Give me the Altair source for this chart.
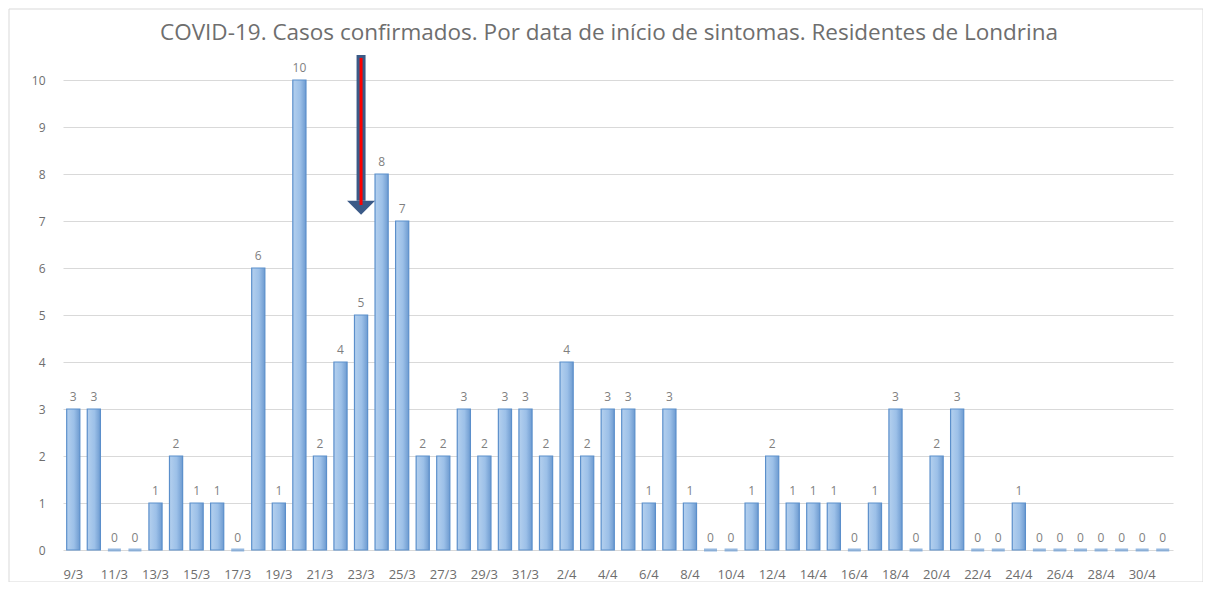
import altair as alt
import pandas as pd

dates = ["9/3", "10/3", "11/3", "12/3", "13/3", "14/3", "15/3", "16/3", "17/3", "18/3",
         "19/3", "20/3", "21/3", "22/3", "23/3", "24/3", "25/3", "26/3", "27/3", "28/3",
         "29/3", "30/3", "31/3", "1/4", "2/4", "3/4", "4/4", "5/4", "6/4", "7/4",
         "8/4", "9/4", "10/4", "11/4", "12/4", "13/4", "14/4", "15/4", "16/4", "17/4",
         "18/4", "19/4", "20/4", "21/4", "22/4", "23/4", "24/4", "25/4", "26/4", "27/4",
         "28/4", "29/4", "30/4", "1/5"]
cases = [3, 3, 0, 0, 1, 2, 1, 1, 0, 6,
         1, 10, 2, 4, 5, 8, 7, 2, 2, 3,
         2, 3, 3, 2, 4, 2, 3, 3, 1, 3,
         1, 0, 0, 1, 2, 1, 1, 1, 0, 1,
         3, 0, 2, 3, 0, 0, 1, 0, 0, 0,
         0, 0, 0, 0]
tick_labels = ["9/3", "11/3", "13/3", "15/3", "17/3", "19/3", "21/3", "23/3", "25/3",
               "27/3", "29/3", "31/3", "2/4", "4/4", "6/4", "8/4", "10/4", "12/4",
               "14/4", "16/4", "18/4", "20/4", "22/4", "24/4", "26/4", "28/4", "30/4"]
title_text = ["COVID-19. Casos confirmados. Por data de início de sintomas. Residentes de Londrina"]

# arrow annotation (data units)
arrow_date = ["23/3"]
arrow_body = [10.53, 7.43]
arrow_red = [10.47, 7.34]
arrow_head = [7.28]

df = pd.DataFrame({"d": dates, "v": cases})
FONT = "Open Sans"
GRAY = "#6E6E6E"

xscale = alt.Scale(domain=dates, paddingInner=0.36, paddingOuter=0.18)
x = alt.X("d:N", scale=xscale, sort=dates, title=None,
          axis=alt.Axis(values=tick_labels, labelAngle=0, ticks=False, domain=False,
                        labelPadding=18, labelFontSize=13, labelColor=GRAY,
                        labelFont=FONT, grid=False))
yscale = alt.Scale(domain=[0, 10], nice=False)
y = alt.Y("v:Q", scale=yscale, title=None,
          axis=alt.Axis(values=list(range(0, 11)), ticks=False, domain=False,
                        labelPadding=18, labelFontSize=12, labelColor=GRAY,
                        labelFont=FONT, grid=True, gridColor="#D9D9D9"))

base = alt.Chart(df)

grad = alt.Gradient(gradient="linear", x1=0, x2=1, y1=0, y2=0,
                    stops=[alt.GradientStop(color="#B4D0EE", offset=0),
                           alt.GradientStop(color="#9CC0E8", offset=0.55),
                           alt.GradientStop(color="#6E9BD0", offset=1)])

bars = base.transform_filter("datum.v > 0").mark_bar(
    color=grad, stroke="#5B8FCB", strokeWidth=1.2
).encode(x=x, y=y)

zeros = base.transform_filter("datum.v == 0").mark_tick(
    color="#6A9BD3", thickness=3, size=13, orient="horizontal"
).encode(x=alt.X("d:N", scale=xscale, sort=dates), y=alt.Y("v:Q", scale=yscale))

labels = base.mark_text(dy=-12, fontSize=12, color="#7F7F7F", font=FONT).encode(
    x=alt.X("d:N", scale=xscale, sort=dates),
    y=alt.Y("v:Q", scale=yscale),
    text="v:Q")

adf_body = pd.DataFrame({"d": arrow_date, "y1": [arrow_body[0]], "y2": [arrow_body[1]]})
adf_red = pd.DataFrame({"d": arrow_date, "y1": [arrow_red[0]], "y2": [arrow_red[1]]})
adf_head = pd.DataFrame({"d": arrow_date, "y": arrow_head})

body = alt.Chart(adf_body).mark_rule(color="#3B5A87", strokeWidth=9, strokeCap="butt").encode(
    x=alt.X("d:N", scale=xscale, sort=dates),
    y=alt.Y("y1:Q", scale=yscale), y2="y2:Q")
head = alt.Chart(adf_head).mark_point(
    shape="M-1,-0.5 L1,-0.5 L0,0.5 Z", size=784, filled=True, color="#3B5A87", opacity=1
).encode(x=alt.X("d:N", scale=xscale, sort=dates), y=alt.Y("y:Q", scale=yscale))
red = alt.Chart(adf_red).mark_rule(color="#FF0000", strokeWidth=3, strokeCap="butt").encode(
    x=alt.X("d:N", scale=xscale, sort=dates),
    y=alt.Y("y1:Q", scale=yscale), y2="y2:Q")

frame = alt.Chart(pd.DataFrame({"a": [0]})).mark_rect(
    fill=None, stroke="#D9D9D9", strokeWidth=1
).encode(x=alt.value(-54), x2=alt.value(1140), y=alt.value(-71), y2=alt.value(502))

title = alt.Chart(pd.DataFrame({"t": title_text})).mark_text(
    fontSize=22.5, font=FONT, color=GRAY, align="center", baseline="middle"
).encode(text="t:N", x=alt.value(546), y=alt.value(-47))

chart = alt.layer(frame, bars, zeros, labels, body, head, red, title).properties(
    width=1110, height=470,
    autosize=alt.AutoSizeParams(type="none"),
    padding={"left": 55, "top": 72, "right": 30, "bottom": 32},
    background="white",
).configure_view(stroke=None)

chart.save("out.html", embed_options={"renderer": "svg", "actions": False})
